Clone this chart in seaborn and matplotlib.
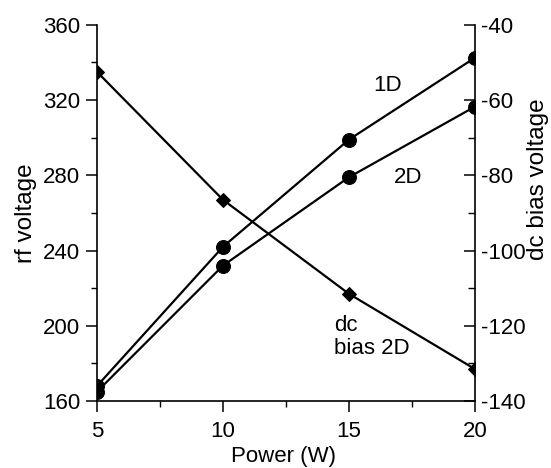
import matplotlib
matplotlib.use("Agg")
import matplotlib.pyplot as plt
import seaborn as sns
import pandas as pd
from matplotlib.ticker import MultipleLocator

sns.set_theme(style="white")
plt.rcParams['font.family'] = ['Liberation Sans', 'DejaVu Sans']
plt.rcParams['axes.unicode_minus'] = False
plt.rcParams['text.color'] = 'black'

power = [5, 10, 15, 20]
rf_1d = [168, 242, 299, 342.5]
rf_2d = [165, 232, 279, 316.5]
dc_bias_2d = [-52.5, -86.5, -111.5, -131.5]

df = pd.DataFrame({"power": power, "rf_1d": rf_1d, "rf_2d": rf_2d, "dc": dc_bias_2d})

fig = plt.figure(figsize=(5.51, 4.68), dpi=100)
ax = fig.add_axes([0.176, 0.143, 0.686, 0.804])
ax2 = ax.twinx()

lw = 1.6
sns.lineplot(data=df, x="power", y="rf_1d", ax=ax, color="black", lw=lw,
             marker="o", markersize=10, markeredgecolor="black")
sns.lineplot(data=df, x="power", y="rf_2d", ax=ax, color="black", lw=lw,
             marker="o", markersize=10, markeredgecolor="black")
sns.lineplot(data=df, x="power", y="dc", ax=ax2, color="black", lw=lw,
             marker="D", markersize=7, markeredgecolor="black")

ax.set_xlim(5, 20)
ax.set_ylim(160, 360)
ax2.set_ylim(-140, -40)
ax.set_xticks([5, 10, 15, 20])
ax.xaxis.set_minor_locator(MultipleLocator(2.5))
ax.set_yticks([160, 200, 240, 280, 320, 360])
ax.yaxis.set_minor_locator(MultipleLocator(20))
ax2.set_yticks([-140, -120, -100, -80, -60, -40])
ax2.yaxis.set_minor_locator(MultipleLocator(10))

for a in (ax, ax2):
    a.spines['top'].set_visible(False)
    for s in a.spines.values():
        s.set_color("black")
        s.set_linewidth(1.2)
ax.spines['right'].set_visible(False)
ax2.spines['left'].set_visible(False)
ax2.spines['bottom'].set_visible(False)

fs = 16
ax.tick_params(axis='x', which='major', direction='out', length=8, width=1.1,
               labelsize=fs, colors='black', pad=6, bottom=True)
ax.tick_params(axis='x', which='minor', direction='out', length=4, width=1.0,
               colors='black', bottom=True)
ax.tick_params(axis='y', which='major', direction='out', length=8, width=1.1,
               labelsize=fs, colors='black', pad=4, left=True)
ax.tick_params(axis='y', which='minor', direction='out', length=4, width=1.0,
               colors='black', left=True)
ax2.tick_params(axis='y', which='major', direction='in', length=8, width=1.1,
                labelsize=fs, colors='black', pad=4, right=True)
ax2.tick_params(axis='y', which='minor', direction='in', length=5, width=1.0,
                colors='black', right=True)

ax.set_xlabel("Power (W)", fontsize=fs, color='black')
ax.set_ylabel("rf voltage", fontsize=17.5, color='black')
ax2.set_ylabel("dc bias voltage", fontsize=17.5, color='black')
ax.xaxis.set_label_coords(0.493, -0.148)
ax.yaxis.set_label_coords(-0.187, 0.5)
ax2.yaxis.set_label_coords(1.168, 0.59)
ax.xaxis.label.set_va('center')
ax.yaxis.label.set_va('center')
ax2.yaxis.label.set_va('center')

ax.text(16.55, 328, "1D", fontsize=fs, ha='center', va='center', color='black')
ax.text(17.35, 279, "2D", fontsize=fs, ha='center', va='center', color='black')
ax.text(14.4, 194, "dc\nbias 2D", fontsize=fs, ha='left', va='center',
        linespacing=1.1, color='black')

fig.savefig("out.png", dpi=100, facecolor="white")
